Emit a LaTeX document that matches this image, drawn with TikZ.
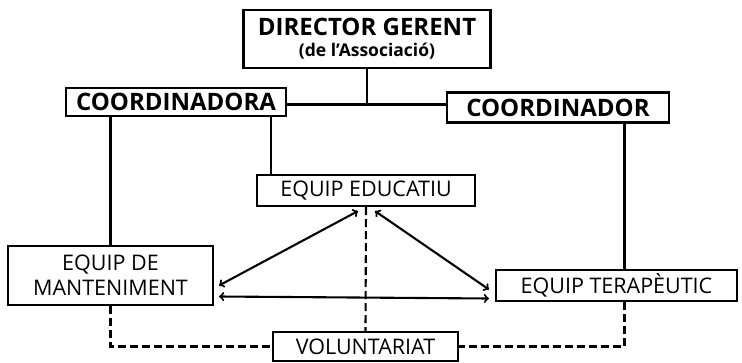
\documentclass[tikz,border=0pt]{standalone}
\usepackage{fontspec}
\setmainfont{Open Sans}
\begin{document}
\begin{tikzpicture}[x=1pt, y=-1pt, line width=2.1pt,
    box/.style={draw, inner sep=0pt, align=center, font=\fontsize{21.5}{25}\selectfont},
    headbox/.style={box, font=\fontsize{24}{25}\selectfont\bfseries},
    rel/.style={<->},
    vol/.style={dash pattern=on 8pt off 4pt}]
        \useasboundingbox (0,0) rectangle (742,362);

        \node[headbox, minimum width=247, minimum height=58] (dir) at (367,39)
            {DIRECTOR GERENT\\[-4pt]{\fontsize{17.5}{19}\selectfont (de l'Associació)}};
        \node[headbox, minimum width=220, minimum height=28] (coora) at (176,102) {COORDINADORA};
        \node[headbox, minimum width=222, minimum height=30] (coordr) at (558,107.5) {COORDINADOR};
        \node[box, minimum width=218, minimum height=31] (educ) at (366,190.5) {EQUIP EDUCATIU};
        \node[box, minimum width=205, minimum height=59] (mant) at (110.5,275.5) {EQUIP DE\\MANTENIMENT};
        \node[box, minimum width=241, minimum height=31] (terap) at (616.5,285.5) {EQUIP TERAPÈUTIC};
        \node[box, minimum width=185, minimum height=29] (volun) at (365.5,346.5) {VOLUNTARIAT};
        \coordinate (junc) at (367,104.5);

        % direccio i coordinacio
        \draw (dir.south) -- (junc);
        \draw (coora.east |- junc) -- (coordr.west |- junc);
        \draw (mant.north |- coora.south) -- (mant.north);
        \draw ([xshift=15pt]educ.north west |- coora.south) -- ([xshift=15pt]educ.north west);
        \draw ([xshift=8pt]terap.north |- coordr.south) -- ([xshift=8pt]terap.north);

        % relacions entre equips
        \draw[rel] ([xshift=-8pt,yshift=-4pt]educ.south) -- ([xshift=5pt,yshift=-10pt]mant.east);
        \draw[rel] ([xshift=9pt,yshift=-4pt]educ.south) -- ([xshift=-6pt,yshift=-4pt]terap.west);
        \draw[rel] ([xshift=5pt,yshift=-21pt]mant.east) -- ([xshift=-6pt,yshift=-13pt]terap.west);

        % voluntariat
        \draw[vol] (educ.south) -- (volun.north);
        \draw[vol] (mant.south) |- (volun.west);
        \draw[vol] ([xshift=8pt]terap.south) |- (volun.east);
\end{tikzpicture}
\end{document}
